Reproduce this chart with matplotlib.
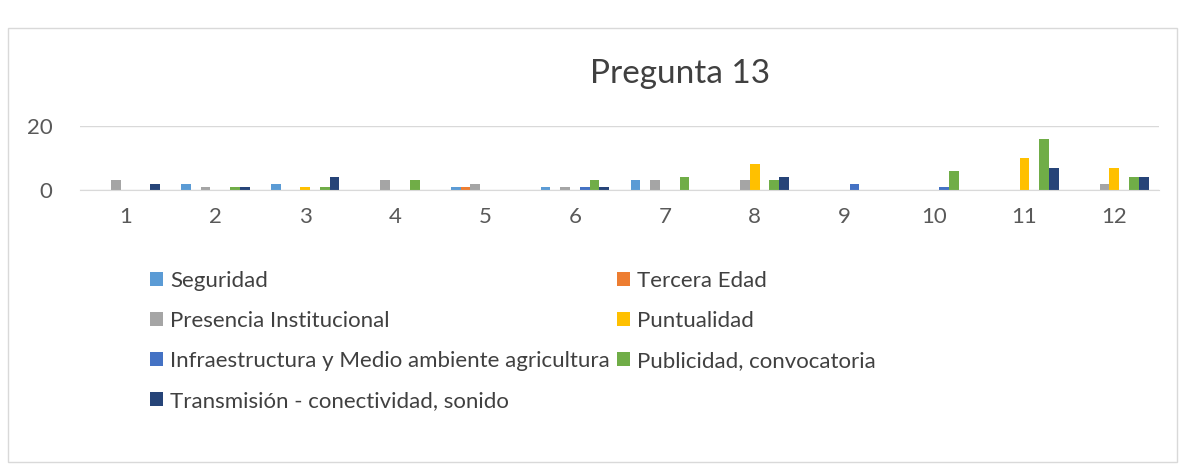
import numpy as np
import matplotlib
matplotlib.use("Agg")
import matplotlib.pyplot as plt
from matplotlib.patches import Rectangle

plt.rcParams['font.family'] = ['Lato', 'DejaVu Sans']

categorias = [str(i) for i in range(1, 13)]
series = [
    "Seguridad",
    "Tercera Edad",
    "Presencia Institucional",
    "Puntualidad",
    "Infraestructura y Medio ambiente agricultura",
    "Publicidad, convocatoria",
    "Transmisión - conectividad, sonido",
]
seguridad = [0, 2, 2, 0, 1, 1, 3, 0, 0, 0, 0, 0]
tercera_edad = [0, 0, 0, 0, 1, 0, 0, 0, 0, 0, 0, 0]
presencia = [3, 1, 0, 3, 2, 1, 3, 3, 0, 0, 0, 2]
puntualidad = [0, 0, 1, 0, 0, 0, 0, 8, 0, 0, 10, 7]
infraestructura = [0, 0, 0, 0, 0, 1, 0, 0, 2, 1, 0, 0]
publicidad = [0, 1, 1, 3, 0, 3, 4, 3, 0, 6, 16, 4]
transmision = [2, 1, 4, 0, 0, 1, 0, 4, 0, 0, 7, 4]
valores = [seguridad, tercera_edad, presencia, puntualidad,
           infraestructura, publicidad, transmision]
colores = ['#5B9BD5', '#ED7D31', '#A5A5A5', '#FFC000',
           '#4472C4', '#70AD47', '#264478']

fig = plt.figure(figsize=(11.83, 4.69), dpi=100)
ax = fig.add_axes([0.068, 0.595, 0.912, 0.136])

x = np.arange(len(categorias))
n = len(series)
ancho = 1 / (n + 2.19)
barras = []
for i, (nombre, vals, col) in enumerate(zip(series, valores, colores)):
    off = (i - (n - 1) / 2) * ancho
    b = ax.bar(x + off, vals, ancho, color=col, label=nombre)
    barras.append(b)

ax.set_ylim(0, 20)
ax.set_yticks([0, 20])
ax.set_xlim(-0.5, len(categorias) - 0.5)
ax.set_xticks(x)
ax.set_xticklabels(categorias)
ax.tick_params(axis='both', length=0, labelsize=16, colors='#595959')
ax.tick_params(axis='x', pad=12)
ax.tick_params(axis='y', pad=20)
ax.grid(axis='y', color='#d9d9d9', linewidth=1)
ax.set_axisbelow(True)
for s in ['top', 'right', 'left']:
    ax.spines[s].set_visible(False)
ax.spines['bottom'].set_color('#d9d9d9')

fig.text(0.575, 0.843, "Pregunta 13", ha='center', va='center',
         fontsize=24, color='#404040')

# orden por columnas: izquierda 0,2,4,6 ; derecha 1,3,5
orden = [0, 2, 4, 6, 1, 3, 5]
fig.legend([barras[i] for i in orden], [series[i] for i in orden],
           ncol=2, loc='upper left', bbox_to_anchor=(0.11, 0.465),
           frameon=False, fontsize=16, labelspacing=0.9,
           handlelength=0.6, handleheight=0.6, handletextpad=0.3,
           columnspacing=0.3, labelcolor='#404040')

fig.patches.append(Rectangle((0.007, 0.015), 0.988, 0.925,
                             transform=fig.transFigure, fill=False,
                             edgecolor='#d9d9d9', linewidth=1))

fig.savefig("out.png", dpi=100)
